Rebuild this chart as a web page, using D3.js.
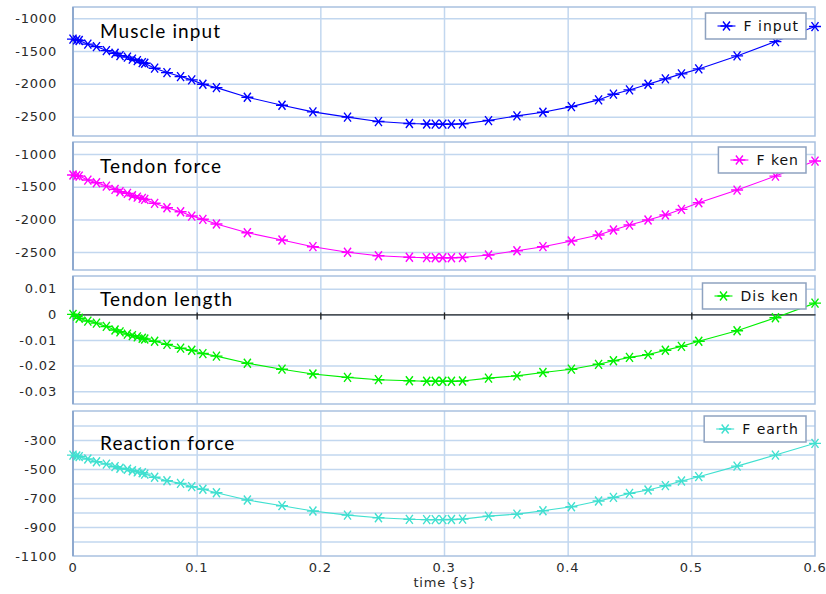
<!DOCTYPE html>
<html>
<head>
<meta charset="utf-8">
<script src="https://cdn.jsdelivr.net/npm/d3@7"></script>
<style>
  body { margin: 0; background: #fff; }
  svg { display: block; }
  .tick-label { font-family: "DejaVu Sans", sans-serif; font-size: 13px; fill: #2a2a2a; letter-spacing: 0.8px; }
  .title { font-family: Lato, "Open Sans", sans-serif; font-size: 19px; fill: #000; letter-spacing: 1.1px; }
  .legend-text { font-family: "DejaVu Sans", sans-serif; font-size: 14px; fill: #111; letter-spacing: 1px; }
</style>
</head>
<body>
<svg id="chart" width="826" height="594"></svg>
<script>
// sample times (s), the solver steps are denser near the start and around 0.3
const time = [0, 0.003, 0.005, 0.012, 0.019, 0.027, 0.034, 0.038, 0.044, 0.048, 0.052, 0.056, 0.058,
  0.066, 0.076, 0.087, 0.096, 0.105, 0.116, 0.141, 0.169, 0.194, 0.222, 0.247, 0.272, 0.286, 0.293,
  0.299, 0.306, 0.315, 0.336, 0.359, 0.380, 0.403, 0.425, 0.437, 0.450, 0.465, 0.479, 0.492, 0.506,
  0.537, 0.568, 0.6];

const muscleInput = [-1320, -1331, -1341, -1396, -1433, -1494, -1534, -1570, -1594, -1625, -1646, -1677, -1686,
  -1762, -1829, -1890, -1940, -2006, -2058, -2204, -2326, -2428, -2508, -2575, -2605, -2612, -2614,
  -2615, -2614, -2610, -2560, -2489, -2433, -2347, -2245, -2158, -2093, -2006, -1925, -1849, -1773,
  -1575, -1357, -1128];

const tendonForce = [-1321, -1330, -1337, -1398, -1439, -1490, -1540, -1577, -1601, -1638, -1660, -1678, -1693,
  -1754, -1822, -1883, -1949, -1999, -2071, -2204, -2316, -2418, -2504, -2556, -2580, -2586, -2588,
  -2588, -2587, -2583, -2545, -2480, -2418, -2331, -2239, -2163, -2087, -2010, -1933, -1846, -1745,
  -1551, -1337, -1107];

const tendonLength = [0, -0.0007, -0.0015, -0.0026, -0.0034, -0.0047, -0.0061, -0.0068, -0.0077, -0.0083, -0.0088, -0.0093, -0.0096,
  -0.0105, -0.0117, -0.0132, -0.0140, -0.0153, -0.0163, -0.0191, -0.0214, -0.0233, -0.0246, -0.0255, -0.0259, -0.0261, -0.0261,
  -0.0261, -0.0261, -0.0260, -0.0249, -0.0240, -0.0227, -0.0214, -0.0195, -0.0181, -0.0168, -0.0157, -0.0140, -0.0125, -0.0105,
  -0.0064, -0.0013, 0.0044];

const reactionForce = [-404, -410, -415, -431, -450, -466, -484, -495, -502, -512, -520, -526, -535,
  -557, -581, -599, -622, -640, -664, -714, -753, -790, -818, -836, -847, -849, -849,
  -849, -848, -846, -825, -811, -788, -760, -721, -696, -668, -645, -615, -583, -553,
  -480, -404, -323];

const xTicks = [0, 0.1, 0.2, 0.3, 0.4, 0.5, 0.6];
const forceTicks = [-1000, -1500, -2000, -2500];
const lengthTicks = [0.01, 0, -0.01, -0.02, -0.03];
const reactionTicks = [-300, -500, -700, -900, -1100];
const reactionGrid = [-200, -300, -400, -500, -600, -700, -800, -900, -1000];

const titles = ['Muscle input', 'Tendon force', 'Tendon length', 'Reaction force'];
const legendNames = ['F input', 'F ken', 'Dis ken', 'F earth'];
const colors = ['#0000ff', '#ff00ff', '#00f000', '#40e0d0'];

// panel layout
const panels = [
  { values: muscleInput, domain: [-2795, -830], ticks: forceTicks, grid: forceTicks, top: 7, bottom: 136, titleY: 31, legendY: 6 },
  { values: tendonForce, domain: [-2775, -815], ticks: forceTicks, grid: forceTicks, top: 142, bottom: 270, titleY: 31, legendY: 5 },
  { values: tendonLength, domain: [-0.035, 0.015], ticks: lengthTicks, grid: lengthTicks, top: 276, bottom: 404, titleY: 30, legendY: 7, zeroLine: true },
  { values: reactionForce, domain: [-1100, -100], ticks: reactionTicks, grid: reactionGrid, top: 411, bottom: 556, titleY: 39, legendY: 5 }
].map((p, i) => Object.assign(p, { title: titles[i], legend: legendNames[i], color: colors[i] }));

const svg = d3.select('#chart');
const left = 73;
const right = 815;
const x = d3.scaleLinear().domain([0, 0.6]).range([left, right]);

// asterisk marker: horizontal bar plus two steep diagonals
function asterisk(cx, cy) {
  const p = d3.path();
  p.moveTo(cx - 6, cy); p.lineTo(cx + 6, cy);
  p.moveTo(cx - 3.5, cy - 4.5); p.lineTo(cx + 3.5, cy + 4.5);
  p.moveTo(cx - 3.5, cy + 4.5); p.lineTo(cx + 3.5, cy - 4.5);
  return p.toString();
}

panels.forEach((p, i) => {
  const y = d3.scaleLinear().domain(p.domain).range([p.bottom, p.top]);
  const g = svg.append('g');
  const w = right - left;
  const h = p.bottom - p.top;

  // horizontal grid
  g.append('g')
    .attr('transform', `translate(${left},0)`)
    .call(d3.axisLeft(y).tickValues(p.grid).tickSize(-w).tickFormat(''))
    .call(s => s.select('.domain').remove())
    .selectAll('line').attr('stroke', '#c2d7ef').attr('stroke-width', 1.5);

  // vertical grid
  g.append('g')
    .attr('transform', `translate(0,${p.bottom})`)
    .call(d3.axisBottom(x).tickValues(xTicks.slice(1, -1)).tickSize(h).tickFormat(''))
    .call(s => s.select('.domain').remove())
    .selectAll('line').attr('stroke', '#c2d7ef').attr('stroke-width', 1.5)
    .attr('y2', -h);

  // frame
  g.append('rect')
    .attr('x', left).attr('y', p.top).attr('width', w).attr('height', h)
    .attr('fill', 'none').attr('stroke', '#a9c1e0').attr('stroke-width', 1.5);
  g.append('line')
    .attr('x1', left).attr('x2', left).attr('y1', p.top).attr('y2', p.bottom)
    .attr('stroke', '#8ea9cf').attr('stroke-width', 2);

  // y tick labels
  g.append('g').selectAll('text')
    .data(p.ticks)
    .join('text')
    .attr('class', 'tick-label')
    .attr('x', 57)
    .attr('y', d => y(d))
    .attr('dy', '0.36em')
    .attr('text-anchor', 'end')
    .text(d => d3.format('~g')(d).replace('−', '-'));

  // zero line with ticks on the tendon length panel
  if (p.zeroLine) {
    g.append('g')
      .attr('transform', `translate(0,${y(0)})`)
      .call(d3.axisBottom(x).tickValues(xTicks.slice(1, -1)).tickSize(5).tickSizeOuter(0).tickFormat(''))
      .call(s => s.select('.domain').attr('stroke', '#222').attr('stroke-width', 1.3))
      .selectAll('line').attr('stroke', '#222').attr('stroke-width', 1.3).attr('y1', -2);
  }

  // series line and markers
  const pts = time.map((t, k) => ({ t, v: p.values[k] }));
  g.append('path')
    .datum(pts)
    .attr('fill', 'none')
    .attr('stroke', p.color)
    .attr('stroke-width', 1.1)
    .attr('d', d3.line().x(d => x(d.t)).y(d => y(d.v)));
  g.append('g').selectAll('path')
    .data(pts)
    .join('path')
    .attr('d', d => asterisk(x(d.t), y(d.v)))
    .attr('stroke', p.color)
    .attr('stroke-width', 1.4)
    .attr('fill', 'none');

  // panel title
  g.append('text')
    .attr('class', 'title')
    .attr('x', 100)
    .attr('y', p.top + p.titleY)
    .text(p.title);

  // legend box
  const lg = g.append('g');
  const box = lg.append('rect')
    .attr('fill', '#fff').attr('stroke', '#8ea2c0').attr('stroke-width', 1.5);
  const txt = lg.append('text')
    .attr('class', 'legend-text')
    .attr('y', p.top + p.legendY + 13)
    .attr('dy', '0.36em')
    .text(p.legend);
  const tw = txt.node().getComputedTextLength();
  const bx = 806 - tw - 45;
  txt.attr('x', bx + 38);
  box.attr('x', bx).attr('y', p.top + p.legendY).attr('width', 806 - bx).attr('height', 26);
  lg.append('line')
    .attr('x1', bx + 12).attr('x2', bx + 30)
    .attr('y1', p.top + p.legendY + 13).attr('y2', p.top + p.legendY + 13)
    .attr('stroke', p.color).attr('stroke-width', 1.1);
  lg.append('path')
    .attr('d', asterisk(bx + 21, p.top + p.legendY + 13))
    .attr('stroke', p.color).attr('stroke-width', 1.4);

  // x tick labels under the last panel
  if (i === panels.length - 1) {
    svg.append('g').selectAll('text')
      .data(xTicks)
      .join('text')
      .attr('class', 'tick-label')
      .attr('x', d => x(d))
      .attr('y', 567)
      .attr('dy', '0.36em')
      .attr('text-anchor', 'middle')
      .text(d => d3.format('~g')(d));
    svg.append('text')
      .attr('class', 'tick-label')
      .attr('x', 445)
      .attr('y', 582)
      .attr('dy', '0.36em')
      .attr('text-anchor', 'middle')
      .text('time {s}');
  }
});
</script>
</body>
</html>
